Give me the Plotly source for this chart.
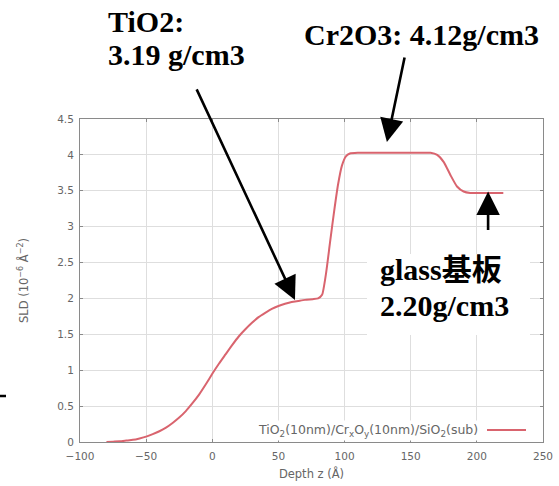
import plotly.graph_objects as go

depth = [-80, -75, -70, -65, -60, -55, -50, -45, -40, -35, -30, -25, -20, -15, -10, -5,
         0, 5, 10, 15, 20, 25, 30, 35, 40, 45, 50, 55, 60, 65, 70, 76,
         80, 83, 86, 89, 92, 95, 98, 101, 104, 110, 120, 130, 140, 150, 160, 165,
         170, 175, 180, 185, 190, 195, 200, 210, 220]
sld = [0.0, 0.005, 0.01, 0.02, 0.03, 0.05, 0.075, 0.11, 0.15, 0.2, 0.265, 0.34, 0.43, 0.54, 0.66, 0.8,
       0.95, 1.09, 1.22, 1.35, 1.47, 1.57, 1.66, 1.74, 1.80, 1.855, 1.895, 1.925, 1.95, 1.965, 1.98, 1.99,
       2.0, 2.05, 2.35, 2.78, 3.2, 3.58, 3.85, 3.98, 4.02, 4.03, 4.03, 4.03, 4.03, 4.03, 4.03, 4.03,
       4.0, 3.9, 3.72, 3.56, 3.49, 3.47, 3.47, 3.47, 3.47]

x_ticks = [-100, -50, 0, 50, 100, 150, 200, 250]
y_ticks = [0, 0.5, 1, 1.5, 2, 2.5, 3, 3.5, 4, 4.5]
y_tick_text = ["0", "0.5", "1", "1.5", "2", "2.5", "3", "3.5", "4", "4.5"]

legend_name = "TiO<sub>2</sub>(10nm)/Cr<sub>x</sub>O<sub>y</sub>(10nm)/SiO<sub>2</sub>(sub)"

W, H = 559, 486
# plot-area pixel geometry for placing decorations
L, R, T, B = 80, 543, 119, 442
def px(x):
    return (x - L) / (R - L)
def py(y):
    return (B - y) / (B - T)

line_color = "#d9646e"
serif = "Liberation Serif"
gray = "#666666"
sans = "DejaVu Sans"

fig = go.Figure()
fig.add_trace(go.Scatter(x=depth, y=sld, mode="lines",
                         line=dict(color=line_color, width=2, shape="spline", smoothing=0.5),
                         name=legend_name, showlegend=False))

axis_common = dict(showline=True, linecolor="#8a8a8a", linewidth=1, mirror="ticks",
                   ticks="inside", ticklen=3, tickcolor="#8a8a8a",
                   showgrid=True, gridcolor="#dedede", gridwidth=1, zeroline=False,
                   tickfont=dict(family=sans, size=10.5, color=gray))

fig.update_xaxes(range=[-100, 250], tickvals=x_ticks, **axis_common, ticklabelstandoff=4,
                 title=dict(text="Depth z (Å)", font=dict(family=sans, size=11.5, color=gray),
                            standoff=9))
fig.update_yaxes(range=[0, 4.5], tickvals=y_ticks, ticktext=y_tick_text, **axis_common, ticklabelstandoff=3,
                 title=dict(text="SLD (10<sup>−6</sup> Å<sup>−2</sup>)",
                            font=dict(family=sans, size=11.5, color=gray),
                            standoff=26))

shapes = []
# glass label background
shapes.append(dict(type="rect", xref="paper", yref="paper", x0=px(367), x1=px(530), y0=py(335), y1=py(254),
                   fillcolor="white", line=dict(width=0), layer="above"))
# legend sample line
shapes.append(dict(type="line", xref="paper", yref="paper", x0=px(487), x1=px(526), y0=py(430), y1=py(430),
                   line=dict(color=line_color, width=2)))
# small stray dash at left edge
shapes.append(dict(type="line", xref="paper", yref="paper", x0=px(0), x1=px(6), y0=py(396), y1=py(396),
                   line=dict(color="black", width=2.5)))

annotations = []
# legend text
annotations.append(dict(xref="paper", yref="paper", x=px(480), y=py(430), xanchor="right", yanchor="middle",
                        text=legend_name, showarrow=False, bgcolor="white",
                        font=dict(family=sans, size=12.5, color=gray)))
# big labels
big = dict(family=serif + ", Noto Sans CJK JP", size=30, color="black", weight="bold")
for txt, lx, cy in [("TiO2:", 106, 21), ("3.19 g/cm3", 106, 55),
                    ("Cr2O3: 4.12g/cm3", 302, 34),
                    ("glass基板", 378, 269), ("2.20g/cm3", 378, 305)]:
    annotations.append(dict(xref="paper", yref="paper", x=px(lx), y=py(cy), xanchor="left", yanchor="middle",
                            text="<b>" + txt + "</b>", showarrow=False, font=big))
# arrows
arrow_style = dict(showarrow=True, arrowhead=2, arrowsize=1.8, arrowwidth=2.6, arrowcolor="black",
                   axref="pixel", ayref="pixel", text="")
annotations.append(dict(x=62.5, y=1.98, ax=-99, ay=-212, **arrow_style))
annotations.append(dict(x=132, y=4.18, ax=18, ay=-86, **arrow_style))
annotations.append(dict(x=208.5, y=3.49, ax=0, ay=40, **arrow_style))

fig.update_layout(width=W, height=H,
                  margin=dict(l=L, r=W - R, t=T, b=H - B, autoexpand=False),
                  paper_bgcolor="white", plot_bgcolor="white",
                  shapes=shapes, annotations=annotations, showlegend=False)

fig.write_html("out.html", config={"displayModeBar": False},
               post_script="document.body.style.margin='0px';document.body.style.overflow='hidden';")
